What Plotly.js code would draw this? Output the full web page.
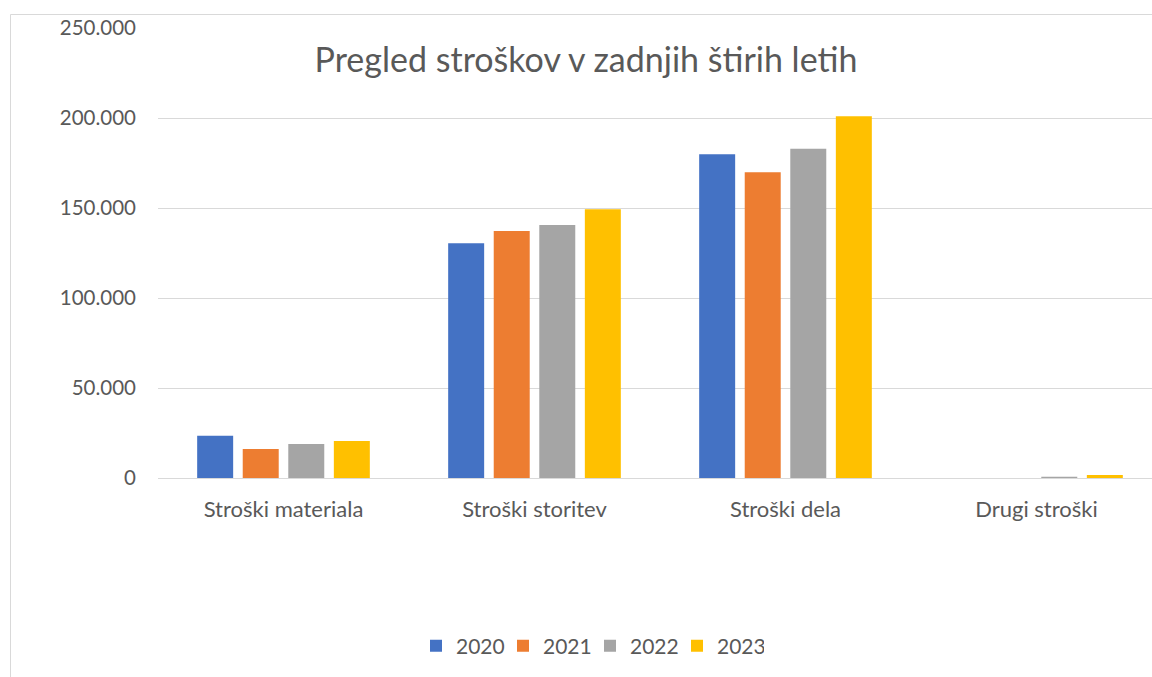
<!DOCTYPE html>
<html>
<head>
<meta charset="utf-8">
<script src="https://cdn.plot.ly/plotly-3.0.1.min.js"></script>
<style>html,body{margin:0;padding:0;overflow:hidden;background:#fff;}</style>
</head>
<body>
<div id="chart" style="width:1152px;height:677px;"></div>
<script>
const categories = ["Stroški materiala", "Stroški storitev", "Stroški dela", "Drugi stroški"];
const years = ["2020", "2021", "2022", "2023"];
const values2020 = [23500, 130400, 179800, 0];
const values2021 = [16100, 137200, 169800, 0];
const values2022 = [18900, 140600, 182900, 700];
const values2023 = [20600, 149300, 201000, 1600];
const colors = ["#4472C4", "#ED7D31", "#A5A5A5", "#FFC000"];
const seriesValues = [values2020, values2021, values2022, values2023];

const traces = years.map((y, i) => ({
  type: "bar",
  name: y,
  x: categories,
  y: seriesValues[i],
  marker: {color: colors[i], line: {width: 0}},
  hoverinfo: "x+y+name"
}));

const plotLeft = 158, plotRight = 1152, plotTop = 28, plotBottom = 478;
const pw = plotRight - plotLeft, ph = plotBottom - plotTop;
const px = v => (v - plotLeft) / pw;
const py = v => (plotBottom - v) / ph;
const fam = "Lato, 'Open Sans', sans-serif";

const layout = {
  width: 1152, height: 677,
  margin: {l: plotLeft, r: 1152 - plotRight, t: plotTop, b: 677 - plotBottom, pad: 0},
  paper_bgcolor: "#ffffff",
  plot_bgcolor: "#ffffff",
  separators: ",.",
  font: {family: fam, color: "#595959", size: 18},
  title: {
    text: "Pregled stroškov v zadnjih štirih letih",
    font: {size: 34, color: "#595959", family: fam},
    xref: "paper", x: px(586), xanchor: "center",
    yref: "container", y: 1 - 60/677, yanchor: "middle"
  },
  barmode: "group",
  bargap: 0.274,
  bargroupgap: 0.21,
  xaxis: {
    range: [-0.5, 3.5 - 10/251],
    showgrid: false,
    showline: false,
    zeroline: false,
    ticks: "",
    ticklabelstandoff: 16,
    tickfont: {size: 22, color: "#595959", family: fam},
    fixedrange: true
  },
  yaxis: {
    range: [0, 250000],
    tickvals: [0, 50000, 100000, 150000, 200000, 250000],
    tickformat: ",d",
    showgrid: true,
    gridcolor: "#d9d9d9",
    gridwidth: 1,
    zeroline: true,
    zerolinecolor: "#d9d9d9",
    zerolinewidth: 1,
    showline: false,
    ticks: "",
    ticklabelstandoff: 21,
    tickfont: {size: 20.5, color: "#595959", family: fam},
    fixedrange: true
  },
  showlegend: true,
  legend: {
    orientation: "h",
    xref: "paper", x: px(590), xanchor: "center",
    yref: "paper", y: py(646), yanchor: "middle",
    font: {size: 21, color: "#595959", family: fam},
    itemwidth: 30,
    entrywidth: 42,
    entrywidthmode: "pixels",
    bgcolor: "rgba(0,0,0,0)"
  },
  shapes: [
    {type: "line", xref: "paper", yref: "paper", x0: px(10.5), x1: px(10.5), y0: py(14.5), y1: py(700), line: {color: "#d9d9d9", width: 1}},
    {type: "line", xref: "paper", yref: "paper", x0: px(10.5), x1: px(1200), y0: py(14.5), y1: py(14.5), line: {color: "#d9d9d9", width: 1}}
  ]
};

Plotly.newPlot("chart", traces, layout, {displayModeBar: false, staticPlot: true});
</script>
</body>
</html>
